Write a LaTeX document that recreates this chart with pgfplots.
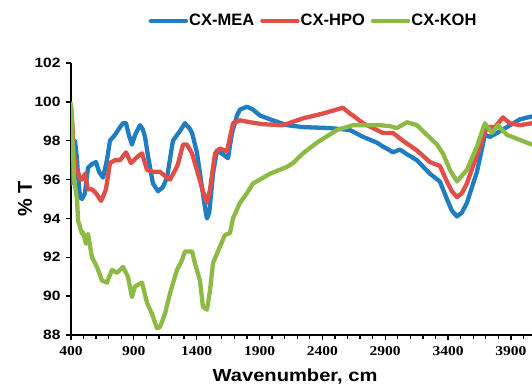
\documentclass[border=0pt]{standalone}
\usepackage{fontspec}
\setmainfont{Liberation Sans}
\newfontfamily\sfw{Liberation Sans}[FakeStretch=1.15]
\newfontfamily\tmw{Liberation Serif}[FakeStretch=1.15]
\usepackage{pgfplots}
\pgfplotsset{compat=1.18}
\definecolor{cblue}{RGB}{31,125,193}
\definecolor{cred}{RGB}{224,78,72}
\definecolor{cgreen}{RGB}{140,186,70}
\begin{document}
\begin{tikzpicture}
\path[use as bounding box] (0,0) rectangle (532bp,387bp);
\begin{axis}[
 at={(71bp,52bp)}, anchor=south west,
 scale only axis, width=461bp, height=272bp,
 xmin=400, xmax=4068, ymin=88, ymax=102,
 axis lines=left, axis line style={-, line width=1.6bp},
 xtick={400,900,...,3900}, minor xtick={500,600,...,4000},
 ytick={88,90,...,102},
 tick align=outside, major tick length=5bp, minor tick length=4bp,
 every tick/.style={black, line width=1.3bp},
 /pgf/number format/assume math mode=true,
 /pgf/number format/set thousands separator={},
 xticklabel style={font=\tmw\bfseries\fontsize{13.5bp}{15bp}\selectfont, yshift=-3bp},
 yticklabel style={font=\sfw\bfseries\fontsize{13.5bp}{15bp}\selectfont, xshift=-2bp},
 xlabel={Wavenumber, cm},
 ylabel={\% T},
 xlabel style={font=\sfw\bfseries\fontsize{17.5bp}{20bp}\selectfont, at={(axis description cs:0.486,-0.151)}, anchor=center},
 ylabel style={font=\bfseries\fontsize{20bp}{22bp}\selectfont, at={(axis description cs:-0.0998,0.5)}, anchor=center},
 legend columns=3,
 legend style={at={(axis description cs:0.525,1.155)}, anchor=center, draw=none, fill=none,
   font=\bfseries\fontsize{16.5bp}{19bp}\selectfont,
   /tikz/every even column/.append style={column sep=5bp}, nodes={inner sep=1bp}},
 legend image code/.code={\draw[#1, line width=4.5bp, line cap=round] (0bp,0bp) -- (35bp,0bp);},
 every axis plot/.append style={line width=4.3bp, line join=round, line cap=round},
]
\addplot[cblue] coordinates {
(400,95.8) (416,96.8) (432,98.0) (448,97.0) (456,96.2) (472,95.1) (488,95.0) (511,95.3)
(535,96.6) (567,96.8) (599,96.9) (623,96.4) (655,96.1) (686,97.0) (710,98.0) (750,98.3)
(790,98.7) (814,98.9) (838,98.9) (860,98.3) (885,97.8) (910,98.3) (949,98.8) (970,98.6)
(989,98.2) (1013,97.2) (1052,95.8) (1092,95.4) (1130,95.6) (1164,96.1) (1211,98.0)
(1267,98.5) (1307,98.9) (1347,98.6) (1363,98.4) (1402,97.4) (1442,95.6) (1470,94.4)
(1482,94.0) (1500,94.3) (1530,96.3) (1561,97.5) (1609,97.3) (1649,97.1) (1681,98.4)
(1721,99.3) (1744,99.6) (1800,99.75) (1848,99.6) (1903,99.3) (1983,99.1) (2118,98.8)
(2246,98.7) (2460,98.65) (2619,98.55) (2723,98.2) (2834,97.9) (2882,97.7) (2938,97.5)
(2961,97.4) (3017,97.55) (3073,97.3) (3152,97.0) (3256,96.3) (3335,95.9) (3391,95.0)
(3430,94.4) (3471,94.1) (3510,94.3) (3550,94.8) (3630,96.4) (3693,98.3) (3733,98.2)
(3789,98.4) (3868,98.7) (3972,99.1) (4068,99.25)
};
\addlegendentry{CX-MEA}
\addplot[cred] coordinates {
(400,99.8) (410,99.0) (420,97.5) (440,96.5) (456,96.4) (472,96.0) (488,96.0) (511,96.3)
(535,95.5) (567,95.5) (599,95.3) (639,94.9) (660,95.2) (678,95.5) (710,96.85) (750,97.0)
(790,97.0) (838,97.4) (877,96.85) (933,97.2) (965,97.35) (1005,96.5) (1052,96.4)
(1108,96.4) (1164,96.1) (1188,96.0) (1230,96.5) (1251,96.8) (1291,97.8) (1323,97.8)
(1363,97.35) (1410,96.3) (1450,95.4) (1482,94.8) (1506,95.5) (1546,97.35) (1585,97.6)
(1641,97.45) (1689,98.9) (1744,99.05) (1824,98.95) (1927,98.85) (2086,98.8) (2246,99.15)
(2405,99.4) (2564,99.7) (2619,99.4) (2643,99.3) (2723,98.9) (2834,98.55) (2882,98.4)
(2961,98.4) (3041,98.0) (3152,97.5) (3256,96.9) (3335,96.7) (3391,95.9) (3430,95.4)
(3471,95.1) (3510,95.3) (3550,95.8) (3654,97.7) (3709,98.7) (3773,98.7) (3837,99.2)
(3892,98.9) (3972,98.8) (4068,98.9)
};
\addlegendentry{CX-HPO}
\addplot[cgreen] coordinates {
(400,99.9) (416,97.5) (424,96.0) (448,95.0) (456,93.9) (488,93.2) (495,93.3) (519,92.7)
(535,93.2) (567,92.0) (607,91.5) (647,90.8) (686,90.7) (726,91.35) (766,91.2) (814,91.5)
(853,91.0) (885,89.95) (909,90.5) (965,90.7) (1005,89.65) (1044,89.1) (1084,88.35)
(1108,88.4) (1148,89.1) (1188,90.15) (1243,91.35) (1283,91.85) (1307,92.3) (1363,92.3)
(1386,91.7) (1426,90.8) (1450,89.45) (1482,89.3) (1506,90.3) (1530,91.7) (1585,92.55)
(1625,93.15) (1665,93.25) (1689,94.0) (1744,94.8) (1800,95.3) (1848,95.8) (1903,96.0)
(1983,96.3) (2118,96.65) (2166,96.85) (2246,97.35) (2357,97.9) (2381,98.0) (2516,98.55)
(2643,98.8) (2779,98.8) (2858,98.8) (2938,98.75) (2993,98.65) (3073,98.95) (3152,98.8)
(3232,98.3) (3312,97.8) (3359,97.35) (3415,96.5) (3471,95.9) (3550,96.5) (3630,97.7)
(3693,98.9) (3749,98.4) (3797,98.8) (3868,98.3) (3948,98.1) (4028,97.9) (4068,97.8)
};
\addlegendentry{CX-KOH}
\end{axis}
\end{tikzpicture}
\end{document}
